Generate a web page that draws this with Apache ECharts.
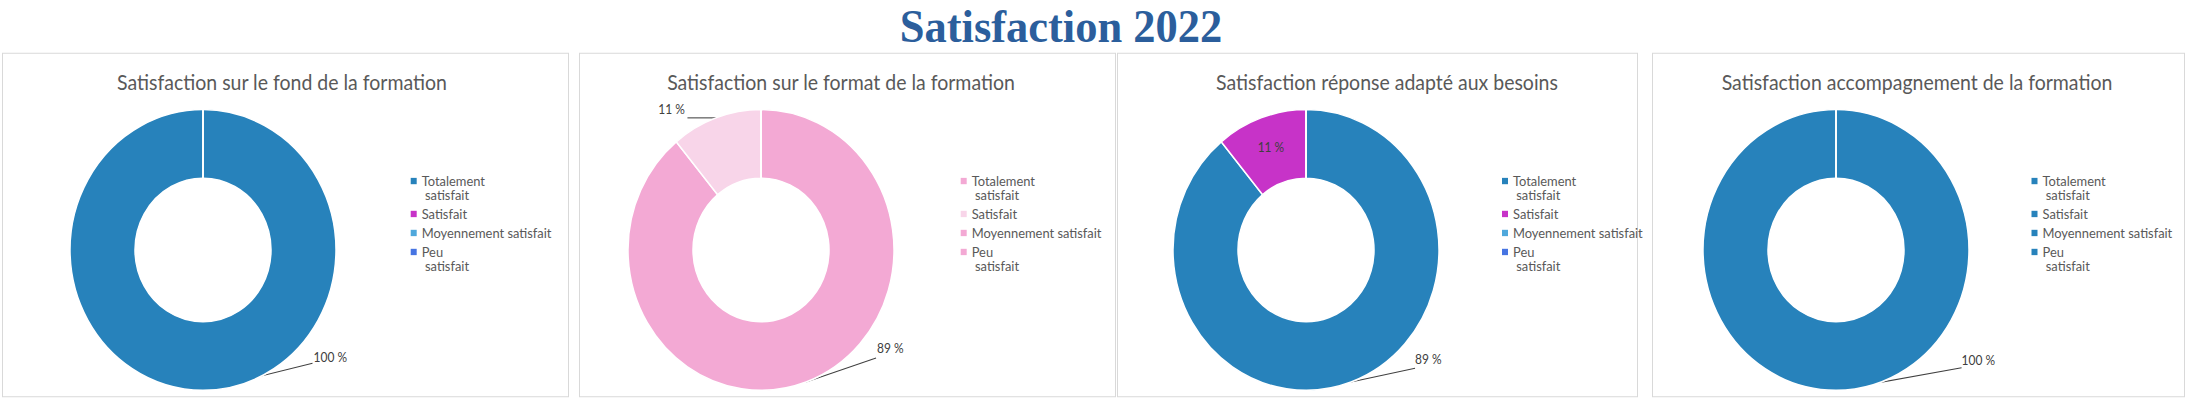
<!DOCTYPE html>
<html lang="fr">
<head>
    <meta charset="UTF-8">
    <title>Satisfaction 2022</title>
    <script src="https://cdn.jsdelivr.net/npm/echarts@6/dist/echarts.min.js"></script>
    <style>
        html, body { margin: 0; padding: 0; background: #fff; overflow: hidden; }
        #wrap { width: 2188px; height: 399px; overflow: hidden; }
        /* la capture d'origine est un peu étirée en hauteur : on dessine à 378px puis on étire */
        #main { width: 2188px; height: 378px; transform: scaleY(1.0556); transform-origin: 0 0; }
    </style>
</head>
<body>

<div id="wrap"><div id="main"></div></div>

<script type="text/javascript">
    // données
    var mainTitle = 'Satisfaction 2022';
    var categories = ['Totalement satisfait', 'Satisfait', 'Moyennement satisfait', 'Peu satisfait'];
    var legendLabels = ['Totalement\n satisfait', 'Satisfait', 'Moyennement satisfait', 'Peu\n satisfait'];
    var chartTitles = [
        'Satisfaction sur le fond de la formation',
        'Satisfaction sur le format de la formation',
        'Satisfaction réponse adapté aux besoins',
        'Satisfaction accompagnement de la formation'
    ];
    var fondValues = [100, 0, 0, 0];
    var formatValues = [89, 11, 0, 0];
    var besoinsValues = [89, 11, 0, 0];
    var accompagnementValues = [100, 0, 0, 0];

    var allValues = [fondValues, formatValues, besoinsValues, accompagnementValues];

    // couleurs de chaque graphique
    var palettes = [
        ['#2782bb', '#c733c8', '#4fa8dc', '#4674e2'],
        ['#f3a9d4', '#f8d5e9', '#f3a9d4', '#f3a9d4'],
        ['#2782bb', '#c733c8', '#4fa8dc', '#4674e2'],
        ['#2782bb', '#2782bb', '#2782bb', '#2782bb']
    ];

    // mise en page (px, avant étirement vertical)
    var pieCenterX = [203, 761, 1306, 1836];
    var pieCenterY = 236.8;
    var titleCenterX = [282, 841, 1387, 1917];
    var legendLeft = [410.7, 960.7, 1502, 2031.5];
    var legendFirstLine = [171.5, 202.7, 220.7, 238.7];
    var LINE = 13.5;
    var frames = [[2.5, 566], [579.5, 536], [1117.5, 520], [1652.5, 532]];

    // étiquettes : bout du trait de rappel par rapport au bord de la part
    var labelSpecs = [
        [{dx: 109.5, dy: -25.6, tx: 1, ty: 0}],
        [{dx: 70, dy: -22.7, tx: 1, ty: -3}, {dx: -28.5, dy: 0, tx: -2.5, ty: -2}],
        [{dx: 64, dy: -13.1, tx: 0, ty: -2}, {inside: true}],
        [{dx: 125.6, dy: -21.5, tx: 0, ty: -1}]
    ];

    var textFont = 'Lato';

    function makeLabelLayout(p) {
        return function (params) {
            var spec = labelSpecs[p][params.dataIndex];
            if (!spec || spec.inside || !params.labelLinePoints) {
                return {};
            }
            var start = params.labelLinePoints[0];
            var end = [start[0] + spec.dx, start[1] + spec.dy];
            return {
                x: end[0] + spec.tx,
                y: end[1] + spec.ty,
                align: spec.dx > 0 ? 'left' : 'right',
                verticalAlign: 'bottom',
                labelLinePoints: [start, end]
            };
        };
    }

    var titles = [{
        text: mainTitle,
        left: 1061,
        top: 25,
        padding: 0,
        textAlign: 'center',
        textVerticalAlign: 'middle',
        textStyle: {
            fontFamily: 'Liberation Serif',
            fontWeight: 'bold',
            fontSize: 44.5,
            color: '#2b5e9c'
        }
    }];
    var legends = [];
    var series = [];
    var graphics = [];

    for (var p = 0; p < 4; p++) {
        titles.push({
            text: chartTitles[p],
            left: titleCenterX[p],
            top: 77.7,
            padding: 0,
            textAlign: 'center',
            textVerticalAlign: 'middle',
            textStyle: {
                fontFamily: textFont,
                fontWeight: 'normal',
                fontSize: 19.5,
                color: '#595959'
            }
        });

        graphics.push({
            type: 'rect',
            silent: true,
            shape: {x: frames[p][0], y: 50.5, width: frames[p][1], height: 325.3},
            style: {fill: 'none', stroke: '#d9d9d9', lineWidth: 1}
        });

        var data = [];
        for (var k = 0; k < categories.length; k++) {
            var v = allValues[p][k];
            var spec = labelSpecs[p][k];
            var item = {
                name: categories[k],
                value: v,
                itemStyle: {color: palettes[p][k]}
            };
            if (v === 0) {
                item.label = {show: false};
                item.labelLine = {show: false};
            } else if (spec && spec.inside) {
                item.label = {position: 'inside'};
                item.labelLine = {show: false};
            }
            data.push(item);

            // une légende par entrée ; ligne vide en tête pour que le carré reste sur la 1re ligne
            var twoLines = legendLabels[k].indexOf('\n') >= 0;
            legends.push({
                orient: 'vertical',
                left: legendLeft[p],
                top: legendFirstLine[k] - (twoLines ? 1.5 : 0.5) * LINE,
                padding: 0,
                itemWidth: 6,
                itemHeight: 6,
                selectedMode: false,
                formatter: (function (lbl) {
                    return function () { return lbl.indexOf('\n') >= 0 ? '\n' + lbl : lbl; };
                })(legendLabels[k]),
                textStyle: {
                    fontFamily: textFont,
                    fontSize: 12.9,
                    lineHeight: LINE,
                    color: '#595959'
                },
                data: [{
                    name: categories[k],
                    icon: 'rect',
                    itemStyle: {color: palettes[p][k], borderWidth: 0}
                }]
            });
        }

        series.push({
            name: chartTitles[p],
            type: 'pie',
            center: [pieCenterX[p], pieCenterY],
            radius: [68, 133],
            startAngle: 90,
            clockwise: true,
            avoidLabelOverlap: false,
            silent: true,
            emphasis: {disabled: true},
            itemStyle: {borderColor: '#ffffff', borderWidth: 1.5},
            label: {
                show: true,
                position: 'outside',
                formatter: '{c} %',
                fontFamily: textFont,
                fontSize: 12,
                color: '#404040'
            },
            labelLine: {
                show: true,
                lineStyle: {color: '#404040', width: 1}
            },
            labelLayout: makeLabelLayout(p),
            data: data
        });
    }

    var myChart = echarts.init(document.getElementById('main'), null, {renderer: 'svg'});
    myChart.setOption({
        animation: false,
        backgroundColor: '#ffffff',
        title: titles,
        legend: legends,
        graphic: graphics,
        series: series
    });
</script>

</body>
</html>
